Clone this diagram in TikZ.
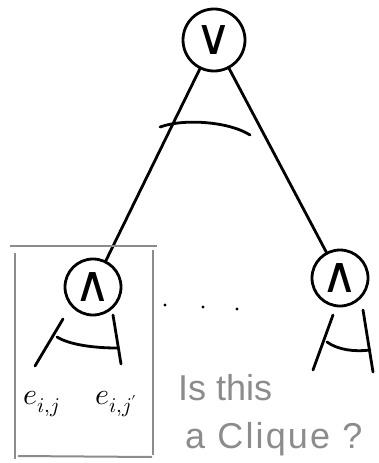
\documentclass[tikz,border=0pt]{standalone}
\usepackage{fontspec}
\usepackage{unicode-math}
\setmathfont{Latin Modern Math}
\setsansfont{Liberation Sans}
\newfontfamily\gatefont{DejaVu Sans}
\begin{document}
\begin{tikzpicture}[x=1pt,y=-1pt,
  ink/.style={line width=2.8pt,line cap=round,line join=round},
  gate/.style={ink,draw,circle,minimum size=56pt,inner sep=0pt,font=\gatefont\fontsize{50}{50}\selectfont},
  frame/.style={draw=black!45,line width=2pt},
  note/.style={text=black!45,font=\sffamily\fontsize{36}{40}\selectfont,anchor=base west,inner sep=0pt},
  lit/.style={font=\fontsize{30}{30}\selectfont,inner sep=0pt}]
\useasboundingbox (0,0) rectangle (379,463);

% gates
\node[gate,minimum size=62pt] (V) at (214,40) {\makebox[0pt]{∨}};
\node[gate] (L) at (93,287) {\makebox[0pt]{∧}};
\node[gate] (R) at (340,278) {\makebox[0pt]{∧}};

% edges from the or-gate
\draw[ink] (V) -- (L);
\draw[ink] (V) -- (R);
\draw[ink] (160,127) .. controls (185,118) and (230,122) .. (250,135);

% left and-gate with its literals
\coordinate (la1) at (63,319); \coordinate (la2) at (35,366);
\coordinate (lb1) at (113,315); \coordinate (lb2) at (121,364);
\draw[ink] (la1) -- (la2);
\draw[ink] (lb1) -- (lb2);
\draw[ink] (57,337) .. controls (70,345) and (95,348) .. (117,348);
\node[lit] (e1) at (42,404) {$e_{i,j}$};
\node[lit] (e2) at (116,404) {$e_{i,j'}$};

% right and-gate
\coordinate (ra1) at (333,315); \coordinate (ra2) at (313,370);
\coordinate (rb1) at (363,310); \coordinate (rb2) at (373,372);
\draw[ink] (ra1) -- (ra2);
\draw[ink] (rb1) -- (rb2);
\draw[ink] (327,342) .. controls (338,350) and (355,352) .. (370,350);

% dots between the and-gates
\foreach \p/\q in {165/305,203/307,237/309}
  \fill (\p,\q) circle (1.6pt);

% box around the left subtree
\draw[frame] (10,246) -- (157,246);
\draw[frame] (15,253) -- (15,459);
\draw[frame] (153,250) -- (153,455);
\draw[frame] (18,456) -- (152,457);

% question
\node[note] (q1) at (178,400) {Is this};
\node[note,font=\sffamily\fontsize{36}{40}\selectfont\addfontfeatures{LetterSpace=6}] (q2) at (185,448) {a Clique ?};
\end{tikzpicture}
\end{document}
